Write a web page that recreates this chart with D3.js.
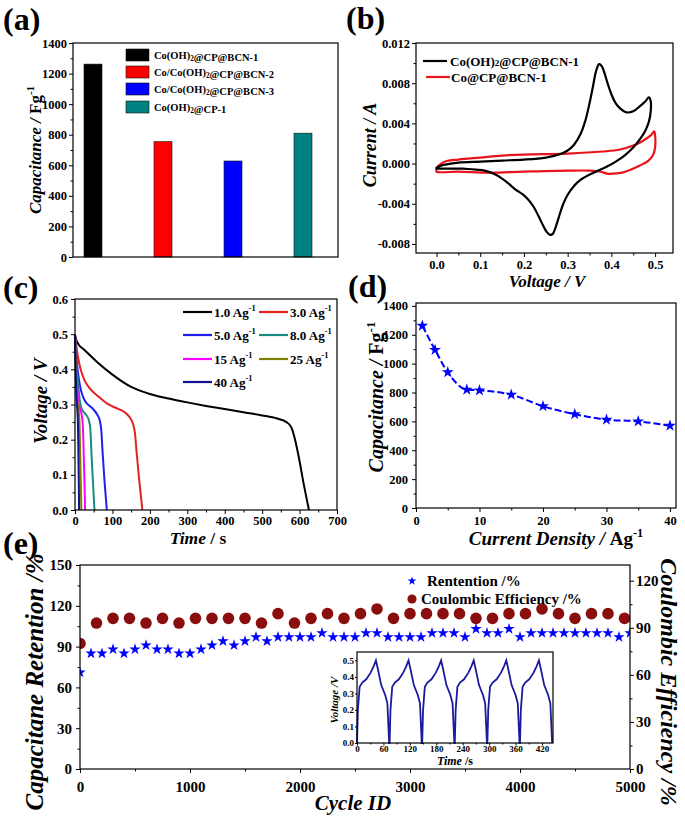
<!DOCTYPE html>
<html><head><meta charset="utf-8">
<script src="https://cdn.jsdelivr.net/npm/d3@7"></script>
<style>
body{margin:0;background:#fff;}
svg{display:block;}
</style></head><body>
<div id="chart"></div>
<script>
// ---------------- DATA ----------------
// (a) bar chart
const barCats = ["Co(OH)2@CP@BCN-1","Co/Co(OH)2@CP@BCN-2","Co/Co(OH)2@CP@BCN-3","Co(OH)2@CP-1"];
const barVals = [1262, 755, 628, 810];
const barColors = ["#000000","#ff0000","#0000ff","#008080"];
const capTicks = [0,200,400,600,800,1000,1200,1400];

// (b) CV loops (V, A)
const cvBlackV = [0.000,0.010,0.020,0.050,0.100,0.150,0.200,0.250,0.280,0.300,0.315,0.330,0.340,0.350,0.358,0.365,0.372,0.378,0.385,0.392,0.400,0.410,0.420,0.435,0.450,0.465,0.478,0.486,0.490,
  0.490,0.486,0.478,0.465,0.450,0.430,0.410,0.390,0.370,0.350,0.330,0.315,0.300,0.290,0.280,0.272,0.266,0.260,0.252,0.243,0.233,0.222,0.210,0.198,0.188,0.178,0.165,0.150,0.130,0.110,0.090,0.060,0.030,0.010,0.000];
const cvBlackI = [-0.0004,-0.0002,-0.0001,0.0001,0.0002,0.0003,0.0004,0.0006,0.0009,0.0013,0.0019,0.0030,0.0042,0.0060,0.0077,0.0092,0.0099,0.0097,0.0089,0.0079,0.0069,0.0060,0.0055,0.0051,0.0052,0.0057,0.0062,0.0066,0.0062,
  0.0052,0.0042,0.0033,0.0024,0.0016,0.0008,0.0002,-0.0003,-0.0007,-0.0011,-0.0016,-0.0022,-0.0031,-0.0040,-0.0053,-0.0064,-0.0070,-0.0071,-0.0068,-0.0061,-0.0052,-0.0043,-0.0036,-0.0031,-0.0028,-0.0025,-0.0020,-0.0015,-0.0010,-0.0007,-0.0006,-0.0005,-0.0005,-0.0005,-0.0005];
const cvRedV = [0.000,0.005,0.020,0.050,0.100,0.150,0.200,0.300,0.380,0.420,0.450,0.470,0.490,0.498,0.500,
  0.500,0.496,0.485,0.465,0.445,0.425,0.405,0.390,0.375,0.350,0.300,0.200,0.120,0.050,0.000];
const cvRedI = [-0.0006,-0.0002,0.0002,0.0004,0.0006,0.0008,0.0009,0.0010,0.0012,0.0014,0.0018,0.0022,0.0028,0.0032,0.0028,
  0.0016,0.0009,0.0003,-0.0002,-0.0006,-0.0009,-0.0010,-0.0010,-0.0008,-0.0007,-0.0007,-0.0008,-0.0009,-0.0008,-0.0008];
const cvNames = ["Co(OH)2@CP@BCN-1","Co@CP@BCN-1"];

// (c) GCD curves (time s, voltage V)
const gcdLabels = ["1.0","3.0","5.0","8.0","15","25","40"];
const gcdColors = ["#000000","#e32222","#2020ee","#1b8a80","#ff00ff","#808000","#101090"];
const gcd1T = [0,3,10,22,40,65,100,150,200,250,300,350,400,450,500,540,565,578,588,598,610,625];
const gcd1V = [0.498,0.485,0.47,0.458,0.44,0.415,0.385,0.35,0.33,0.317,0.306,0.296,0.287,0.278,0.269,0.26,0.25,0.235,0.2,0.15,0.08,0.0];
const gcd3T = [0,3,8,15,25,40,60,85,110,130,145,155,160,165,172,180];
const gcd3V = [0.498,0.47,0.435,0.4,0.37,0.345,0.325,0.303,0.29,0.28,0.265,0.245,0.22,0.16,0.08,0.0];
const gcd5T = [0,2,5,10,15,22,30,40,50,60,66,70,74,79,85];
const gcd5V = [0.498,0.46,0.42,0.375,0.345,0.32,0.305,0.295,0.285,0.27,0.255,0.23,0.16,0.08,0.0];
const gcd8T = [0,2,5,9,13,17,22,30,37,41,44,48,52];
const gcd8V = [0.498,0.45,0.4,0.35,0.31,0.29,0.28,0.27,0.255,0.23,0.16,0.08,0.0];
const gcd15T = [0,2,4,7,10,14,18,21,23,25,27];
const gcd15V = [0.498,0.44,0.39,0.33,0.3,0.285,0.27,0.24,0.17,0.09,0.0];
const gcd25T = [0,1.5,3,5,7,10,12,13.5,15,17];
const gcd25V = [0.498,0.44,0.39,0.33,0.3,0.28,0.25,0.18,0.1,0.0];
const gcd40T = [0,1,2,3.5,5,6.5,8,9,10,11];
const gcd40V = [0.498,0.44,0.39,0.33,0.3,0.28,0.24,0.17,0.09,0.0];

// (d) rate capability
const rateCurrent = [1,3,5,8,10,15,20,25,30,35,40];
const rateCap = [1262,1095,940,820,815,785,705,650,612,600,570];

// (e) cycling
const retCycles = [0,100,200,300,400,500,600,700,800,900,1000,1100,1200,1300,1400,1500,1600,1700,1800,1900,2000,2100,2200,2300,2400,2500,2600,2700,2800,2900,3000,3100,3200,3300,3400,3500,3600,3700,3800,3900,4000,4100,4200,4300,4400,4500,4600,4700,4800,4900,5000];
const retVals = [71,85,85,88,85,88,91,88,88,85,85,88,91,94,91,94,97,94,97,97,97,97,100,97,97,97,100,100,97,97,97,97,100,100,100,97,103,100,100,103,97,100,100,100,100,100,100,100,100,97,100];
const ceCycles = [0,150,300,450,600,750,900,1050,1200,1350,1500,1650,1800,1950,2100,2250,2400,2550,2700,2850,3000,3150,3300,3450,3600,3750,3900,4050,4200,4350,4500,4650,4800,4950];
const ceVals = [80,93,96,96,93,96,93,96,96,96,96,93,99,93,96,99,96,99,102,96,99,99,99,99,96,96,99,99,102,99,96,99,99,96];

// (e) inset GCD cycles
const insetT = [0,2,6,12,21,31,38,43,48,55,64,69,71,73,
  74,76,80,86,95,105,112,117,122,129,138,143,145,147,
  148,150,154,160,169,179,186,191,196,203,212,217,219,221,
  222,224,228,234,243,253,260,265,270,277,286,291,293,295,
  296,298,302,308,317,327,334,339,344,351,360,365,367,369,
  370,372,376,382,391,401,408,413,418,425,434,439,441,443];
const insetV = [0,0.2,0.34,0.365,0.385,0.425,0.465,0.5,0.44,0.35,0.29,0.24,0.12,0,
  0,0.2,0.34,0.365,0.385,0.425,0.465,0.5,0.44,0.35,0.29,0.24,0.12,0,
  0,0.2,0.34,0.365,0.385,0.425,0.465,0.5,0.44,0.35,0.29,0.24,0.12,0,
  0,0.2,0.34,0.365,0.385,0.425,0.465,0.5,0.44,0.35,0.29,0.24,0.12,0,
  0,0.2,0.34,0.365,0.385,0.425,0.465,0.5,0.44,0.35,0.29,0.24,0.12,0,
  0,0.2,0.34,0.365,0.385,0.425,0.465,0.5,0.44,0.35,0.29,0.24,0.12,0];

// ---------------- DRAWING ----------------
const FONT = '"Liberation Serif","Times New Roman",Times,serif';
const svg = d3.select("#chart").append("svg").attr("width",685).attr("height",820)
  .style("font-family",FONT).style("font-weight","bold");
const defs = svg.append("defs");

function addAxis(g, gen, tx, ty, fs){
  const a = g.append("g").attr("transform",`translate(${tx},${ty})`).call(gen);
  a.attr("font-family",FONT).attr("font-size",fs).attr("font-weight","bold");
  a.select(".domain").remove();
  a.selectAll("line").attr("stroke","#000").attr("stroke-width",1);
  a.selectAll("text").attr("fill","#000");
  return a;
}
function frame(g, l, t, r, b, sw){
  g.append("rect").attr("x",l).attr("y",t).attr("width",r-l).attr("height",b-t)
    .attr("fill","none").attr("stroke","#000").attr("stroke-width",sw||1.2);
}
function panelLabel(txt, x, y){
  svg.append("text").attr("x",x).attr("y",y).attr("font-size",32).attr("font-weight","bold").text(txt);
}
function range(a,b,s){ return d3.range(a,b+s/2,s); }
// text with (OH)2 subscript
function chemText(sel, str, fs, subMode){
  const parts = str.split("(OH)2");
  parts.forEach((p,i)=>{
    if(i>0){
      sel.append("tspan").text("(OH)");
      if(subMode==="sub"){
        sel.append("tspan").attr("font-size",fs*0.7).attr("dy",fs*0.25).text("2");
        sel.append("tspan").attr("dy",-fs*0.25).text("");
      } else {
        sel.append("tspan").attr("font-size",fs*0.7).text("2");
      }
    }
    sel.append("tspan").attr("font-size",fs).text(p);
  });
}
function supLabel(sel, main, sup, fs){
  sel.append("tspan").text(main);
  sel.append("tspan").attr("dy",-fs*0.42).attr("font-size",fs*0.65).text(sup);
}

// ===== (a) =====
{
  const g = svg.append("g");
  const x = d3.scalePoint().domain(barCats).range([93,303]);
  const y = d3.scaleLinear().domain([0,1400]).range([257,43]);
  g.selectAll("rect.bar").data(barCats).join("rect").attr("class","bar")
    .attr("x",d=>x(d)-9).attr("width",18)
    .attr("y",(d,i)=>y(barVals[i])).attr("height",(d,i)=>y(0)-y(barVals[i]))
    .attr("fill",(d,i)=>barColors[i]).attr("stroke","#111").attr("stroke-width",0.6);
  addAxis(g, d3.axisLeft(y).tickValues(range(100,1300,200)).tickSize(2.5).tickFormat(""), 73, 0, 12);
  addAxis(g, d3.axisLeft(y).tickValues(capTicks).tickSize(4).tickPadding(2).tickFormat(d3.format("d")), 73, 0, 12.5);
  frame(g, 73, 43, 338, 257);
  // legend
  const rows = [55,72,89,107];
  barCats.forEach((c,i)=>{
    g.append("rect").attr("x",126).attr("y",rows[i]-6).attr("width",23).attr("height",12)
      .attr("fill",barColors[i]).attr("stroke","#111").attr("stroke-width",0.6);
    const t = g.append("text").attr("x",154).attr("y",rows[i]+3.5).attr("font-size",10.5);
    chemText(t, c, 10.5, "sub");
  });
  const yl = g.append("text").attr("transform","translate(41,150) rotate(-90)")
    .attr("text-anchor","middle").attr("font-size",17);
  yl.append("tspan").attr("font-style","italic").text("Capacitance / ");
  supLabel(yl, "Fg", "-1", 17);
  panelLabel("(a)", 3, 30);
}

// ===== (b) =====
{
  const g = svg.append("g");
  const x = d3.scaleLinear().domain([-0.047,0.541]).range([416,673]);
  const y = d3.scaleLinear().domain([-0.0089,0.012]).range([253,43]);
  addAxis(g, d3.axisLeft(y).tickValues(range(-0.006,0.010,0.004)).tickSize(2.5).tickFormat(""), 416, 0, 12);
  addAxis(g, d3.axisLeft(y).tickValues(range(-0.008,0.012,0.004)).tickSize(4).tickPadding(2).tickFormat(d=>d.toFixed(3)), 416, 0, 12.5);
  addAxis(g, d3.axisBottom(x).tickValues(range(0.05,0.45,0.1)).tickSize(2.5).tickFormat(""), 0, 253, 12);
  addAxis(g, d3.axisBottom(x).tickValues(range(0,0.5,0.1)).tickSize(4).tickPadding(3).tickFormat(d=>d.toFixed(1)), 0, 253, 12.5);
  const line = d3.line().x(d=>x(d[0])).y(d=>y(d[1])).curve(d3.curveCatmullRomClosed.alpha(0.5));
  g.append("path").attr("d",line(cvRedV.map((v,i)=>[v,cvRedI[i]]))).attr("fill","none").attr("stroke","#e8141b").attr("stroke-width",2.2);
  g.append("path").attr("d",line(cvBlackV.map((v,i)=>[v,cvBlackI[i]]))).attr("fill","none").attr("stroke","#000").attr("stroke-width",2.2);
  frame(g, 416, 43, 673, 253);
  // legend
  g.append("line").attr("x1",423).attr("x2",447).attr("y1",61).attr("y2",61).attr("stroke","#000").attr("stroke-width",2.2);
  const t1 = g.append("text").attr("x",450).attr("y",66).attr("font-size",13);
  chemText(t1, cvNames[0], 13, "small");
  g.append("line").attr("x1",426).attr("x2",450).attr("y1",77).attr("y2",77).attr("stroke","#e8141b").attr("stroke-width",2.2);
  g.append("text").attr("x",451).attr("y",82).attr("font-size",13).text(cvNames[1]);
  g.append("text").attr("transform","translate(376,145) rotate(-90)").attr("text-anchor","middle")
    .attr("font-size",18).attr("font-style","italic").text("Current / A");
  g.append("text").attr("x",547).attr("y",287).attr("text-anchor","middle")
    .attr("font-size",17).attr("font-style","italic").text("Voltage / V");
  panelLabel("(b)", 346, 29);
}

// ===== (c) =====
{
  const g = svg.append("g");
  const x = d3.scaleLinear().domain([0,700]).range([75,337]);
  const y = d3.scaleLinear().domain([0,0.6]).range([510,299]);
  addAxis(g, d3.axisLeft(y).tickValues(range(0.05,0.55,0.1)).tickSize(2.5).tickFormat(""), 75, 0, 12);
  addAxis(g, d3.axisLeft(y).tickValues(range(0,0.6,0.1)).tickSize(4).tickPadding(3).tickFormat(d=>d.toFixed(1)), 75, 0, 12.5);
  addAxis(g, d3.axisBottom(x).tickValues(range(50,650,100)).tickSize(2.5).tickFormat(""), 0, 510, 12);
  addAxis(g, d3.axisBottom(x).tickValues(range(0,700,100)).tickSize(4).tickPadding(2).tickFormat(d3.format("d")), 0, 510, 12.5);
  const series = [[gcd1T,gcd1V],[gcd3T,gcd3V],[gcd5T,gcd5V],[gcd8T,gcd8V],[gcd15T,gcd15V],[gcd25T,gcd25V],[gcd40T,gcd40V]];
  const line = d3.line().x(d=>x(d[0])).y(d=>y(d[1])).curve(d3.curveMonotoneX);
  series.forEach((s,i)=>{
    g.append("path").attr("d",line(s[0].map((t,j)=>[t,s[1][j]]))).attr("fill","none")
      .attr("stroke",gcdColors[i]).attr("stroke-width",2);
  });
  frame(g, 75, 299, 337, 510);
  const cols = [183,259], rows = [312,335,359,382];
  gcdLabels.forEach((lab,i)=>{
    const lx = cols[i%2], ly = rows[Math.floor(i/2)];
    g.append("line").attr("x1",lx).attr("x2",lx+29).attr("y1",ly).attr("y2",ly).attr("stroke",gcdColors[i]).attr("stroke-width",2.2);
    const t = g.append("text").attr("x",lx+31).attr("y",ly+4.5).attr("font-size",13);
    supLabel(t, lab+" Ag", "-1", 13);
  });
  g.append("text").attr("transform","translate(47,401) rotate(-90)").attr("text-anchor","middle")
    .attr("font-size",19).attr("font-style","italic").text("Voltage / V");
  const xl = g.append("text").attr("x",198).attr("y",544).attr("text-anchor","middle").attr("font-size",17.5);
  xl.append("tspan").attr("font-style","italic").text("Time");
  xl.append("tspan").text(" / s");
  panelLabel("(c)", 3, 298);
}

// ===== (d) =====
{
  const g = svg.append("g");
  const x = d3.scaleLinear().domain([0,40.95]).range([416,676]);
  const y = d3.scaleLinear().domain([0,1420]).range([508,303]);
  addAxis(g, d3.axisLeft(y).tickValues(range(100,1300,200)).tickSize(2.5).tickFormat(""), 416, 0, 12);
  addAxis(g, d3.axisLeft(y).tickValues(capTicks).tickSize(4).tickPadding(4).tickFormat(d3.format("d")), 416, 0, 12.5);
  addAxis(g, d3.axisBottom(x).tickValues(range(5,35,10)).tickSize(2.5).tickFormat(""), 0, 508, 12);
  addAxis(g, d3.axisBottom(x).tickValues(range(0,40,10)).tickSize(4).tickPadding(4).tickFormat(d3.format("d")), 0, 508, 12.5);
  const pts = rateCurrent.map((c,i)=>[c,rateCap[i]]);
  g.append("path").attr("d",d3.line().x(d=>x(d[0])).y(d=>y(d[1])).curve(d3.curveMonotoneX)(pts))
    .attr("fill","none").attr("stroke","#0000ff").attr("stroke-width",2).attr("stroke-dasharray","7,3");
  g.selectAll("path.st").data(pts).join("path").attr("class","st")
    .attr("transform",d=>`translate(${x(d[0])},${y(d[1])})`)
    .attr("d",d3.symbol(d3.symbolStar,44)).attr("fill","#0000ff");
  frame(g, 416, 303, 676, 508);
  const yl = g.append("text").attr("transform","translate(383,397) rotate(-90)").attr("text-anchor","middle").attr("font-size",20);
  yl.append("tspan").attr("font-style","italic").text("Capacitance / ");
  supLabel(yl, "Fg", "-1", 20);
  const xl = g.append("text").attr("x",556).attr("y",545).attr("text-anchor","middle").attr("font-size",19);
  xl.append("tspan").attr("font-style","italic").text("Current Density / ");
  supLabel(xl, "Ag", "-1", 19);
  panelLabel("(d)", 348, 297);
}

// ===== (e) =====
{
  const g = svg.append("g");
  const L=80,R=630,T=565,B=769;
  const x = d3.scaleLinear().domain([0,5000]).range([L,R]);
  const yL = d3.scaleLinear().domain([0,150]).range([B,T]);
  const yR = d3.scaleLinear().domain([0,130]).range([B,T]);
  addAxis(g, d3.axisLeft(yL).tickValues(range(15,135,30)).tickSize(2.5).tickFormat(""), L, 0, 15);
  addAxis(g, d3.axisLeft(yL).tickValues(range(0,150,30)).tickSize(4).tickPadding(4).tickFormat(d3.format("d")), L, 0, 15);
  addAxis(g, d3.axisRight(yR).tickValues(range(15,105,30)).tickSize(2.5).tickFormat(""), R, 0, 15);
  addAxis(g, d3.axisRight(yR).tickValues(range(0,120,30)).tickSize(4).tickPadding(2).tickFormat(d3.format("d")), R, 0, 15);
  addAxis(g, d3.axisBottom(x).tickValues(range(500,4500,1000)).tickSize(2.5).tickFormat(""), 0, B, 15);
  addAxis(g, d3.axisBottom(x).tickValues(range(0,5000,1000)).tickSize(4).tickPadding(8).tickFormat(d3.format("d")), 0, B, 15);
  defs.append("clipPath").attr("id","clipE").append("rect").attr("x",L).attr("y",T).attr("width",R-L).attr("height",B-T);
  const data = g.append("g").attr("clip-path","url(#clipE)");
  data.selectAll("circle").data(ceCycles).join("circle")
    .attr("cx",d=>x(d)).attr("cy",(d,i)=>yR(ceVals[i])).attr("r",5.8).attr("fill","#8b0e0e");
  data.selectAll("path.st").data(retCycles).join("path").attr("class","st")
    .attr("transform",(d,i)=>`translate(${x(d)},${yL(retVals[i])})`)
    .attr("d",d3.symbol(d3.symbolStar,40)).attr("fill","#0000ff");
  frame(g, L, T, R, B);
  // legend
  g.append("path").attr("transform","translate(412,581)").attr("d",d3.symbol(d3.symbolStar,24)).attr("fill","#0000ff");
  g.append("text").attr("x",427).attr("y",585.5).attr("font-size",15).text("Rentention /%");
  g.append("circle").attr("cx",412).attr("cy",599).attr("r",4.6).attr("fill","#8b0e0e");
  g.append("text").attr("x",421).attr("y",603.5).attr("font-size",15).text("Coulombic Efficiency /%");
  g.append("text").attr("transform","translate(43,682) rotate(-90)").attr("text-anchor","middle")
    .attr("font-size",25).attr("font-style","italic").text("Capacitane Retention /%");
  g.append("text").attr("transform","translate(661,682) rotate(90)").attr("text-anchor","middle")
    .attr("font-size",24).attr("font-style","italic").text("Coulombic Efficiency /%");
  g.append("text").attr("x",353).attr("y",810).attr("text-anchor","middle")
    .attr("font-size",21).attr("font-style","italic").text("Cycle ID");
  panelLabel("(e)", 3, 554);

  // inset
  const iL=357,iR=553,iT=652,iB=743;
  const ix = d3.scaleLinear().domain([0,445]).range([iL,iR]);
  const iy = d3.scaleLinear().domain([0,0.55]).range([iB,iT]);
  g.append("rect").attr("x",iL).attr("y",iT).attr("width",iR-iL).attr("height",iB-iT).attr("fill","#fff");
  addAxis(g, d3.axisLeft(iy).tickValues(range(0,0.5,0.1)).tickSize(2).tickPadding(1).tickFormat(d=>d.toFixed(1)), iL, 0, 9);
  addAxis(g, d3.axisBottom(ix).tickValues(range(30,390,60)).tickSize(1.5).tickFormat(""), 0, iB, 9);
  addAxis(g, d3.axisBottom(ix).tickValues(range(0,420,60)).tickSize(2.5).tickPadding(0).tickFormat(d3.format("d")), 0, iB, 9);
  g.append("path").attr("d",d3.line().x(d=>ix(d[0])).y(d=>iy(d[1]))(insetT.map((t,i)=>[t,insetV[i]])))
    .attr("fill","none").attr("stroke","#1a1a9c").attr("stroke-width",1.8);
  frame(g, iL, iT, iR, iB, 1.2);
  g.append("text").attr("transform","translate(338,700) rotate(-90)").attr("text-anchor","middle")
    .attr("font-size",11).attr("font-style","italic").text("Voltage /V");
  const it = g.append("text").attr("x",455).attr("y",765).attr("text-anchor","middle").attr("font-size",12);
  it.append("tspan").attr("font-style","italic").text("Time");
  it.append("tspan").text(" /s");
}
</script>
</body></html>
